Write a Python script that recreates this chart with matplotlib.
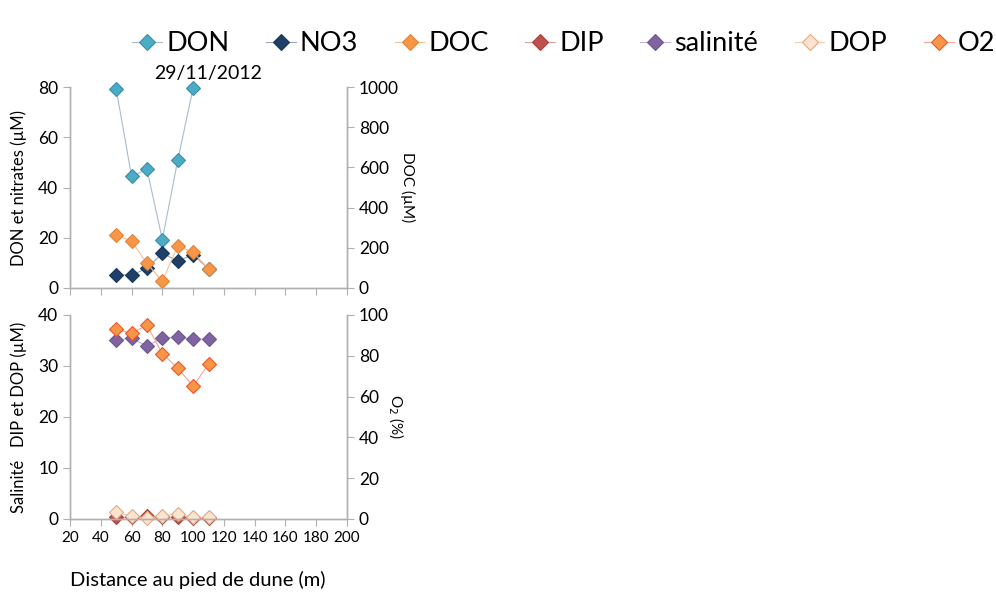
import matplotlib
matplotlib.use("Agg")
import matplotlib.pyplot as plt

plt.rcParams['font.family'] = ['Lato', 'DejaVu Sans']

# distance au pied de dune (m)
distance = [50, 60, 70, 80, 90, 100, 110]

# top panel
don = [79.3, 44.4, 47.2, 19.3, 50.8, 79.6, None]
no3 = [5.2, 5.2, 7.8, 13.8, 10.8, 13.2, 7.6]
doc = [262, 233, 122, 34, 210, 178, 96]

# bottom panel
salinite = [35.1, 35.4, 33.9, 35.5, 35.6, 35.3, 35.3]
dip = [0.3, 0.3, 0.5, 0.3, 0.4, 0.2, 0.2]
dop = [1.3, 0.6, 0.2, 0.6, 1.0, 0.3, 0.3]
o2 = [93, 91, 95, 81, 74, 65, 76]

x_ticks = [20, 40, 60, 80, 100, 120, 140, 160, 180, 200]

grey = '#b0b0b0'
ms = 7


def style_axes(ax, ax2, show_xlabels):
    for a in (ax, ax2):
        a.spines['top'].set_visible(False)
        for s in ('left', 'right', 'bottom'):
            a.spines[s].set_color(grey)
            a.spines[s].set_linewidth(1.0)
        a.tick_params(axis='y', colors=grey, labelcolor='black', labelsize=12.5,
                      length=5, direction='out')
        a.tick_params(axis='x', colors=grey, labelcolor='black', labelsize=11,
                      length=5, direction='out')
    ax.set_xlim(20, 200)
    ax.set_xticks(x_ticks)
    if not show_xlabels:
        ax.set_xticklabels([])
    ax.set_facecolor('none')


def series(ax, x, y, face, edge, line):
    xs = [a for a, b in zip(x, y) if b is not None]
    ys = [b for b in y if b is not None]
    return ax.plot(xs, ys, color=line, linewidth=0.8, marker='D', markersize=ms,
                   markerfacecolor=face, markeredgecolor=edge, markeredgewidth=0.8,
                   clip_on=False)[0]


fig = plt.figure(figsize=(9.96, 5.96), dpi=100)

# top panel
ax1 = fig.add_axes([0.0703, 0.5168, 0.2781, 0.3372])
ax1b = ax1.twinx()
h_don = series(ax1, distance, don, '#4BACC6', '#3a8ea6', '#a9bccc')
h_no3 = series(ax1, distance, no3, '#1F3F66', '#17375E', '#9aa8bb')
h_doc = series(ax1b, distance, doc, '#F79646', '#e0843a', '#f5bf95')
ax1.set_ylim(0, 80)
ax1.set_yticks([0, 20, 40, 60, 80])
ax1b.set_ylim(0, 1000)
ax1b.set_yticks([0, 200, 400, 600, 800, 1000])
style_axes(ax1, ax1b, False)
ax1.set_ylabel('DON et nitrates (µM)', fontsize=12, labelpad=8)
ax1b.set_ylabel('DOC (µM)', fontsize=11, rotation=-90, labelpad=12)
ax1.set_title('29/11/2012', fontsize=14, pad=6, x=0.5)

# bottom panel
ax2 = fig.add_axes([0.0703, 0.1292, 0.2781, 0.3423])
ax2b = ax2.twinx()
h_dip = series(ax2, distance, dip, '#C0504D', '#a8403d', '#dba09e')
h_sal = series(ax2, distance, salinite, '#8064A2', '#6f5590', '#c3b4d6')
h_dop = series(ax2, distance, dop, '#FCE4D0', '#e7a77c', '#f3c9b0')
h_o2 = series(ax2b, distance, o2, '#F79646', '#f0552a', '#f4a594')
ax2.set_ylim(0, 40)
ax2.set_yticks([0, 10, 20, 30, 40])
ax2b.set_ylim(0, 100)
ax2b.set_yticks([0, 20, 40, 60, 80, 100])
style_axes(ax2, ax2b, True)
ax2.set_ylabel('Salinité   DIP et DOP (µM)', fontsize=12, labelpad=8)
ax2b.set_ylabel('O$_2$ (%)', fontsize=11, rotation=-90, labelpad=12)

fig.text(0.0703, 0.012, 'Distance au pied de dune (m)', fontsize=14.5,
         ha='left', va='bottom')

handles = [h_don, h_no3, h_doc, h_dip, h_sal, h_dop, h_o2]
labels = ['DON', 'NO3', 'DOC', 'DIP', 'salinité', 'DOP', 'O2']
fig.legend(handles, labels, loc='center', bbox_to_anchor=(0.566, 0.927), ncol=7,
           frameon=False, fontsize=19.5, handlelength=1.1, handletextpad=0.15,
           columnspacing=1.35, markerscale=1.2)

fig.savefig('out.png', dpi=100)
